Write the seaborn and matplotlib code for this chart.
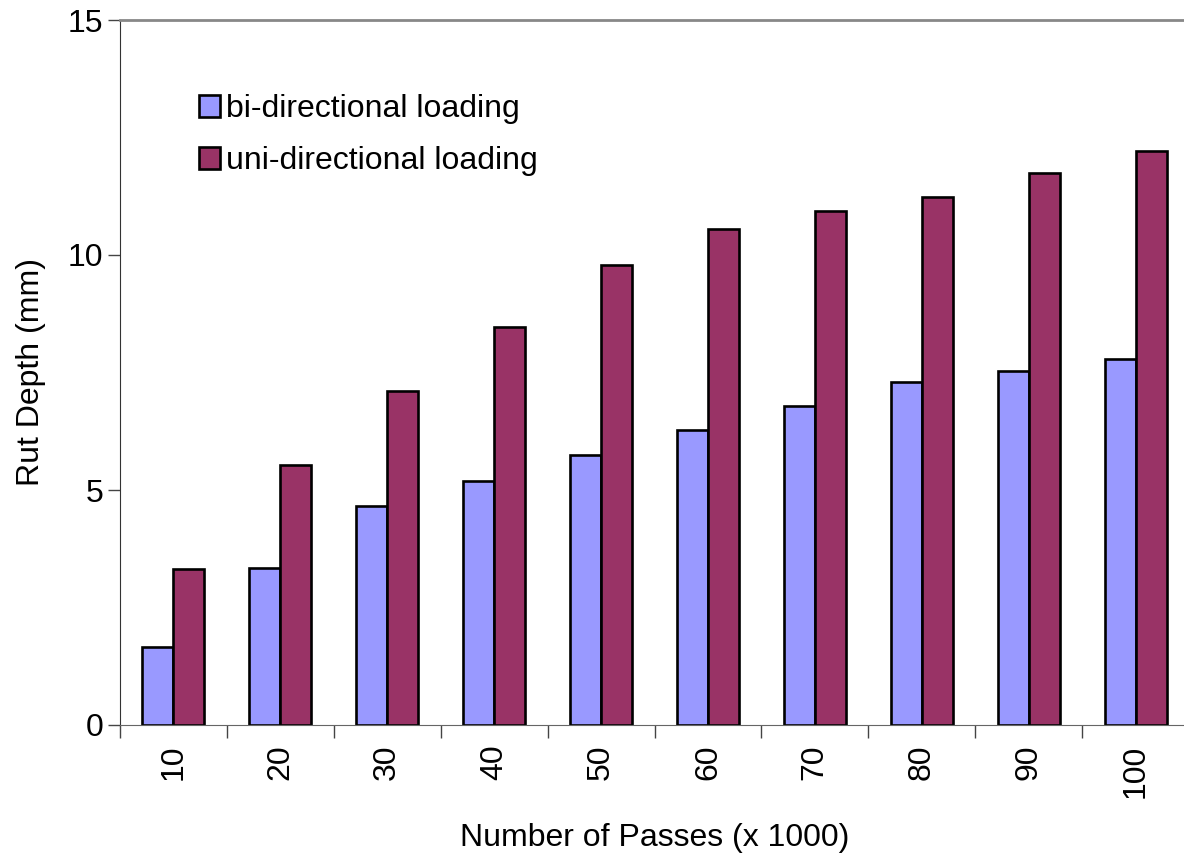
import numpy as np
import pandas as pd
import matplotlib
matplotlib.use('Agg')
import matplotlib.pyplot as plt
import seaborn as sns

# Data
passes = ['10', '20', '30', '40', '50', '60', '70', '80', '90', '100']
bi_dir = [1.66, 3.34, 4.66, 5.19, 5.74, 6.28, 6.79, 7.30, 7.53, 7.79]
uni_dir = [3.32, 5.53, 7.11, 8.47, 9.79, 10.55, 10.94, 11.23, 11.74, 12.21]
series = ['bi-directional loading', 'uni-directional loading']
colors = ['#9999FF', '#993366']

df = pd.DataFrame({
    'passes': passes * 2,
    'depth': bi_dir + uni_dir,
    'series': [series[0]] * len(passes) + [series[1]] * len(passes),
})

sns.set_style('white')
plt.rcParams['font.family'] = ['Liberation Sans', 'DejaVu Sans']
plt.rcParams['text.color'] = 'black'
plt.rcParams['axes.labelcolor'] = 'black'
plt.rcParams['xtick.color'] = 'black'
plt.rcParams['ytick.color'] = 'black'

fs = 23

fig = plt.figure(figsize=(11.84, 8.56), dpi=100)
ax = fig.add_axes([120 / 1184, 131 / 856, 1069 / 1184, 705 / 856])

sns.barplot(data=df, x='passes', y='depth', hue='series', order=passes,
            hue_order=series, palette=colors, width=0.58, edgecolor='black',
            linewidth=1.9, saturation=1, ax=ax)

ax.set_xlim(-0.5, len(passes) - 0.5)
ax.set_ylim(0, 15)
ax.set_yticks([0, 5, 10, 15])
ax.tick_params(axis='y', labelsize=fs, length=9, width=1, color='#444444',
               labelcolor='black', direction='out', left=True, pad=3)
ax.tick_params(axis='x', which='major', labelsize=fs, length=0, rotation=90,
               labelcolor='black', pad=14)
ax.set_xticks(np.arange(-0.5, len(passes), 1.0), minor=True)
ax.tick_params(axis='x', which='minor', length=9, width=1, color='#444444',
               direction='out', bottom=True)

for side in ['left', 'bottom', 'top']:
    ax.spines[side].set_visible(True)
ax.spines['left'].set_color('#333333')
ax.spines['bottom'].set_color('#666666')
ax.spines['top'].set_color('#888888')
ax.spines['top'].set_linewidth(2)
ax.spines['right'].set_visible(False)

ax.set_xlabel('Number of Passes (x 1000)', fontsize=fs, labelpad=18)
ax.set_ylabel('Rut Depth (mm)', fontsize=fs, labelpad=16)

leg = ax.legend(loc='upper left', bbox_to_anchor=(0.062, 0.913), frameon=False,
                fontsize=fs, handlelength=0.65, handleheight=0.7, handletextpad=0.2,
                labelspacing=0.7, borderaxespad=0)

fig.savefig('out.png', dpi=100)
